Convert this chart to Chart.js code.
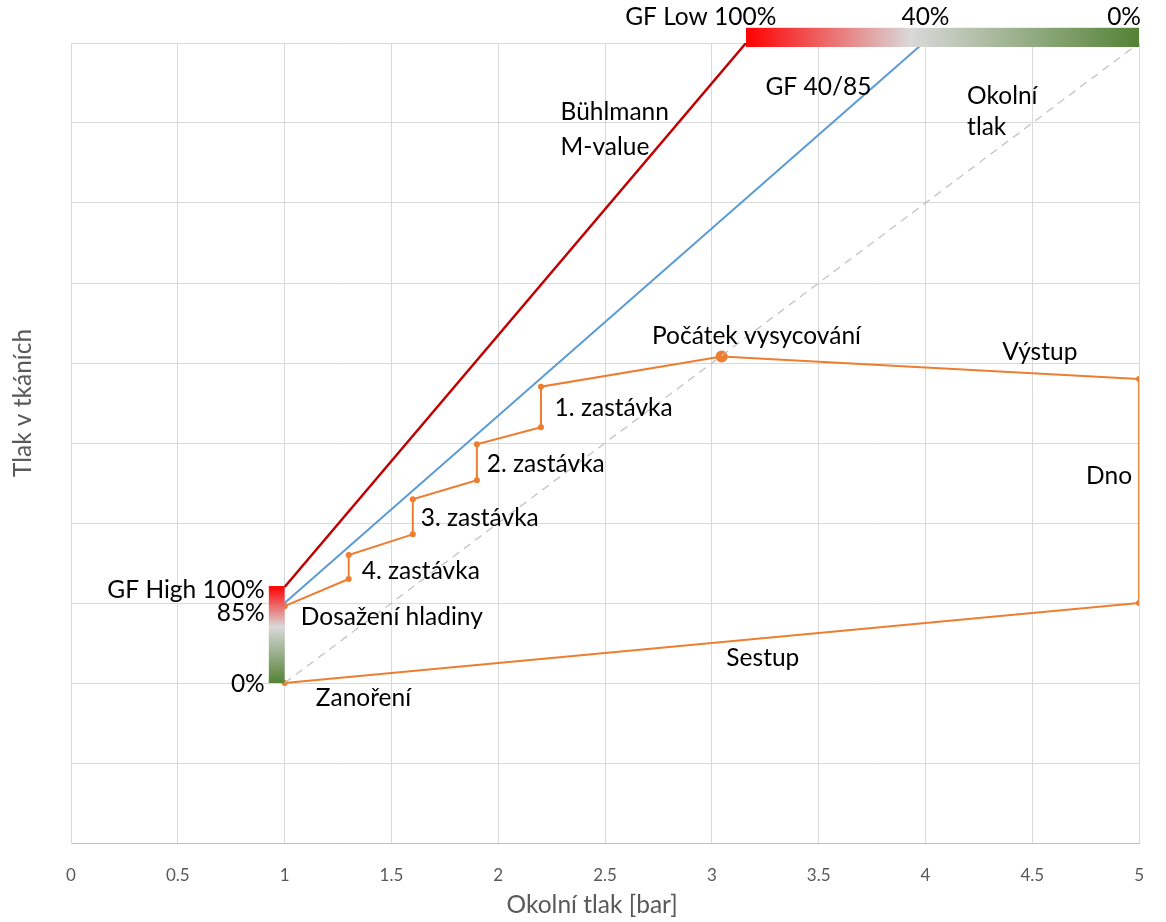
<!DOCTYPE html>
<html>
<head>
<meta charset="utf-8">
<script src="https://cdn.jsdelivr.net/npm/chart.js@4.4.1/dist/chart.umd.min.js"></script>
<style>
  html, body { margin: 0; padding: 0; background: #fff; }
  #wrap { width: 1166px; height: 922px; }
</style>
</head>
<body>
<div id="wrap"><canvas id="chart" width="1166" height="922"></canvas></div>
<script>
// hodnoty
const ambientX = [1, 5]
const ambientY = [1, 5]

const mValueX = [1, 3.16]
const mValueY = [1.6, 5]

const gfX = [1, 3.99]
const gfY = [1.5, 5]

// profil ponoru: zanoření -> dno -> výstup -> zastávky -> hladina
const profileX = [1, 5, 5, 3.046, 2.2, 2.2, 1.9, 1.9, 1.6, 1.6, 1.3, 1.3, 1]
const profileY = [1, 1.5, 2.9, 3.04, 2.852, 2.598, 2.492, 2.267, 2.148, 1.929, 1.8, 1.65, 1.48]
const profileRadius = [3, 3, 3, 6, 3, 3, 3, 3, 3, 3, 3, 3, 3]

const xTicks = [0, 0.5, 1, 1.5, 2, 2.5, 3, 3.5, 4, 4.5, 5]
const xTickLabels = ["0", "0.5", "1", "1.5", "2", "2.5", "3", "3.5", "4", "4.5", "5"]

// gradientní pruhy GF
const gfLowBarX = [3.16, 5]
const gfLowBarY = [4.975, 5.095]
const gfHighBarX = [0.926, 1]
const gfHighBarY = [1, 1.606]

const labels = [
  { text: "GF Low 100%", x: 3.302, y: 5.162, align: "right" },
  { text: "40%", x: 4.0, y: 5.162, align: "center" },
  { text: "0%", x: 5.009, y: 5.162, align: "right" },
  { text: "Bühlmann", x: 2.292, y: 4.569, align: "left" },
  { text: "M-value", x: 2.292, y: 4.35, align: "left" },
  { text: "GF 40/85", x: 3.251, y: 4.725, align: "left" },
  { text: "Okolní", x: 4.195, y: 4.669, align: "left" },
  { text: "tlak", x: 4.195, y: 4.475, align: "left" },
  { text: "Počátek vysycování", x: 3.209, y: 3.169, align: "center" },
  { text: "Výstup", x: 4.359, y: 3.069, align: "left" },
  { text: "1. zastávka", x: 2.264, y: 2.719, align: "left" },
  { text: "2. zastávka", x: 1.946, y: 2.369, align: "left" },
  { text: "3. zastávka", x: 1.637, y: 2.031, align: "left" },
  { text: "4. zastávka", x: 1.361, y: 1.7, align: "left" },
  { text: "Dno", x: 4.752, y: 2.294, align: "left" },
  { text: "GF High 100%", x: 0.907, y: 1.581, align: "right" },
  { text: "85%", x: 0.907, y: 1.4375, align: "right" },
  { text: "Dosažení hladiny", x: 1.076, y: 1.4125, align: "left" },
  { text: "0%", x: 0.907, y: 0.994, align: "right" },
  { text: "Zanoření", x: 1.146, y: 0.906, align: "left" },
  { text: "Sestup", x: 3.068, y: 1.156, align: "left" },
]

const FONT = "Lato, 'Open Sans', sans-serif"

function toPoints(xs, ys) {
  return xs.map((x, i) => ({ x: x, y: ys[i] }))
}

function makeGradient(ctx, x0, y0, x1, y1) {
  const g = ctx.createLinearGradient(x0, y0, x1, y1)
  g.addColorStop(0, "#ff0000")
  g.addColorStop(0.42, "#d9d9d9")
  g.addColorStop(1, "#548235")
  return g
}

const decorPlugin = {
  id: "decor",
  afterDatasetsDraw(chart) {
    const ctx = chart.ctx
    const xs = chart.scales.x
    const ys = chart.scales.y
    ctx.save()

    // horní pruh (vodorovně)
    let x0 = xs.getPixelForValue(gfLowBarX[0]), x1 = xs.getPixelForValue(gfLowBarX[1])
    let y0 = ys.getPixelForValue(gfLowBarY[1]), y1 = ys.getPixelForValue(gfLowBarY[0])
    ctx.fillStyle = makeGradient(ctx, x0, 0, x1, 0)
    ctx.fillRect(x0, y0, x1 - x0, y1 - y0)

    // levý pruh (svisle)
    x0 = xs.getPixelForValue(gfHighBarX[0]); x1 = xs.getPixelForValue(gfHighBarX[1])
    y0 = ys.getPixelForValue(gfHighBarY[1]); y1 = ys.getPixelForValue(gfHighBarY[0])
    ctx.fillStyle = makeGradient(ctx, 0, y0, 0, y1)
    ctx.fillRect(x0, y0, x1 - x0, y1 - y0)

    // popisky
    ctx.fillStyle = "#000"
    ctx.font = "24.5px " + FONT
    ctx.textBaseline = "middle"
    labels.forEach(l => {
      ctx.textAlign = l.align
      ctx.fillText(l.text, xs.getPixelForValue(l.x), ys.getPixelForValue(l.y))
    })

    // názvy os
    ctx.fillStyle = "#595959"
    ctx.font = "24.5px " + FONT
    ctx.textAlign = "center"
    ctx.fillText("Okolní tlak [bar]", xs.getPixelForValue(2.44), chart.chartArea.bottom + 62)

    ctx.translate(chart.chartArea.left - 48, ys.getPixelForValue(2.75))
    ctx.rotate(-Math.PI / 2)
    ctx.fillText("Tlak v tkáních", 0, 0)
    ctx.restore()
  }
}

const chart = new Chart(document.getElementById("chart"), {
  type: "scatter",
  data: {
    datasets: [
      {
        label: "Okolní tlak",
        data: toPoints(ambientX, ambientY),
        showLine: true,
        borderColor: "#bfbfbf",
        borderWidth: 1.2,
        borderDash: [8, 6],
        pointRadius: 0,
      },
      {
        label: "Bühlmann M-value",
        data: toPoints(mValueX, mValueY),
        showLine: true,
        borderColor: "#c00000",
        borderWidth: 2.5,
        pointRadius: 0,
      },
      {
        label: "GF 40/85",
        data: toPoints(gfX, gfY),
        showLine: true,
        borderColor: "#5b9bd5",
        borderWidth: 2,
        pointRadius: 0,
      },
      {
        label: "Profil",
        data: toPoints(profileX, profileY),
        showLine: true,
        borderColor: "#ed7d31",
        borderWidth: 2,
        backgroundColor: "#ed7d31",
        pointBackgroundColor: "#ed7d31",
        pointBorderWidth: 0,
        pointRadius: profileRadius,
      },
    ]
  },
  options: {
    responsive: false,
    animation: false,
    layout: { padding: { top: 43, right: 22, left: 0, bottom: 0 } },
    plugins: {
      legend: { display: false },
      tooltip: { enabled: false },
    },
    scales: {
      x: {
        type: "linear",
        min: 0,
        max: 5,
        afterBuildTicks: (scale) => { scale.ticks = xTicks.map(v => ({ value: v })) },
        afterFit: (scale) => { scale.height = 79 },
        grid: { color: "#d9d9d9", drawTicks: false },
        border: { color: "#bfbfbf" },
        ticks: {
          color: "#595959",
          font: { family: FONT, size: 17 },
          padding: 22,
          maxRotation: 0,
          callback: (v) => xTickLabels[xTicks.indexOf(v)],
        },
      },
      y: {
        type: "linear",
        min: 0,
        max: 5,
        ticks: { stepSize: 0.5, display: false },
        afterFit: (scale) => { scale.width = 71 },
        grid: { color: "#d9d9d9", drawTicks: false },
        border: { color: "#d9d9d9" },
      },
    },
  },
  plugins: [decorPlugin],
})
</script>
</body>
</html>
